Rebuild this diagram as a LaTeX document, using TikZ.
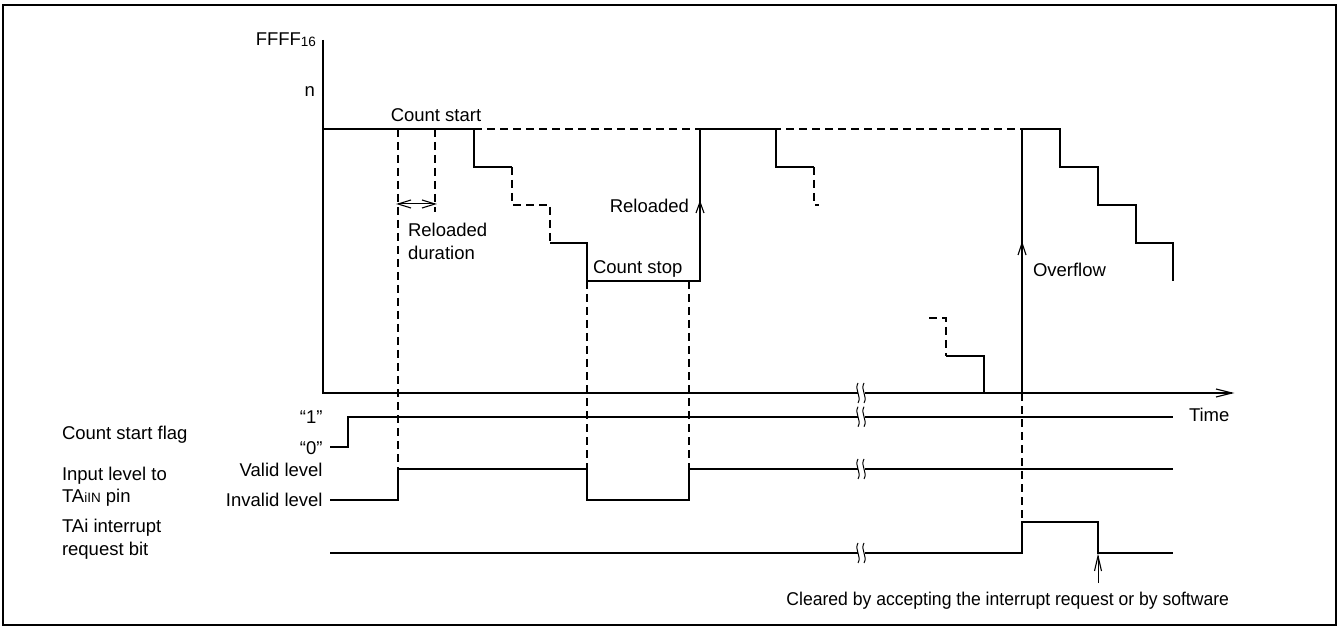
\documentclass[tikz,border=0pt]{standalone}
\usepackage{fontspec}
\setmainfont{Liberation Sans}
\usetikzlibrary{arrows.meta}
\begin{document}
\begin{tikzpicture}[x=1pt,y=-1pt,
  every node/.style={font=\fontsize{18.5}{22}\selectfont, inner sep=0pt, outer sep=0pt},
  sig/.style={line width=1.6pt, line join=miter},
  dsh/.style={line width=1.2pt, dash pattern=on 8pt off 5pt},
  vtip/.style={line width=1.1pt, line join=miter},
  brk/.pic={
    \fill[white] (-3.5,-3) rectangle (3.5,3);
    \draw[line width=1pt] (-3,-10) .. controls (-7,-3) and (1,3) .. (-3,10);
    \draw[line width=1pt] (3,-10) .. controls (-1,-3) and (7,3) .. (3,10);
  }]
\useasboundingbox (0,0) rectangle (1339,628);
\draw[line width=2.5pt] (3,5) rectangle (1336,625);

% dashed guides
\draw[dsh] (398,129) -- (398,469);
\draw[dsh] (435,129) -- (435,212);
\draw[dsh] (474,129) -- (1022,129);
\draw[dsh] (587,281) -- (587,469);
\draw[dsh] (689,281) -- (689,469);
\draw[dsh] (1022,393) -- (1022,522);
\draw[dsh] (512,167) -- (512,205) -- (550,205) -- (550,243);
\draw[dsh] (814,167) -- (814,205) -- (819,205);
\draw[dsh] (929,318) -- (946,318) -- (946,356);

% axes
\coordinate (org) at (323,393);
\coordinate (ytop) at (323,40);
\coordinate (tend) at (1232,393);
\draw[sig] (ytop) -- (org) -- (tend);
\draw[vtip] (1216,389) -- (tend) -- (1216,397);

% counter value
\draw[sig] (323,129) -- (474,129) -- (474,167) -- (512,167);
\draw[sig] (550,243) -- (587,243) -- (587,281) -- (700,281) -- (700,129) -- (776,129) -- (776,167) -- (814,167);
\draw[sig] (946,356) -- (984,356) -- (984,393);
\draw[sig] (1022,393) -- (1022,129) -- (1060,129) -- (1060,167) -- (1098,167) -- (1098,205) -- (1136,205) -- (1136,243) -- (1173,243) -- (1173,281);

% arrow heads on lines
\coordinate (rlB) at (700,202);
\draw[vtip] (696,213) -- (rlB) -- (704,213);
\coordinate (ovB) at (1022,243);
\draw[vtip] (1018,255) -- (ovB) -- (1026,255);
\coordinate (rdA) at (398,204);
\coordinate (rdB) at (435,204);
\draw[line width=1pt] (rdA) -- (rdB);
\draw[vtip] (411,200) -- (rdA) -- (411,208);
\draw[vtip] (422,200) -- (rdB) -- (422,208);
\coordinate (clA) at (1098,583);
\coordinate (clB) at (1098,556);
\draw[line width=1pt] (clA) -- (clB);
\draw[vtip] (1094.5,571) -- (clB) -- (1101.5,571);

% signals
\draw[sig] (330,447) -- (348,447) -- (348,416.7) -- (1173,416.7);
\draw[sig] (330,500) -- (398,500) -- (398,469) -- (587,469) -- (587,500) -- (689,500) -- (689,469) -- (1173,469);
\draw[sig] (330,553) -- (1022,553) -- (1022,522) -- (1098,522) -- (1098,553) -- (1173,553);

% breaks
\pic at (861,393) {brk};
\pic at (861,416.7) {brk};
\pic at (861,469) {brk};
\pic at (861,553) {brk};

% labels
\node[anchor=base east] (ffff) at (316,46) {FFFF{\fontsize{13.5}{14}\selectfont\raisebox{-1pt}{16}}};
\node[anchor=base east] (n) at (315,97) {n};
\node[anchor=base] (cstart) at (436,122) {Count start};
\node[anchor=base west] (rdur1) at (408,236.7) {Reloaded};
\node[anchor=base west] (rdur2) at (408,260) {duration};
\node[anchor=base east] (rel) at (689,212.7) {Reloaded};
\node[anchor=base west] (cstop) at (593,273.3) {Count stop};
\node[anchor=base west] (ovf) at (1033,276.7) {Overflow};
\node[anchor=base west] (time) at (1189,421.7) {Time};
\node[anchor=base east] (one) at (322.6,423) {“1”};
\node[anchor=base east] (zero) at (322.6,454) {“0”};
\node[anchor=base east] (valid) at (322.6,476.7) {Valid level};
\node[anchor=base east] (invalid) at (322.6,506.7) {Invalid level};
\node[anchor=base west] (csf) at (62,439) {Count start flag};
\node[anchor=base west] (il1) at (62,480) {Input level to};
\node[anchor=base west] (il2) at (62,502.7) {TA{\fontsize{13.5}{14}\selectfont iIN} pin};
\node[anchor=base west] (ir1) at (62,532.7) {TAi interrupt};
\node[anchor=base west] (ir2) at (62,555.3) {request bit};
\node[anchor=base east] (clr) at (1229,605) {\scalebox{0.95}[1]{Cleared by accepting the interrupt request or by software}};
\end{tikzpicture}
\end{document}
